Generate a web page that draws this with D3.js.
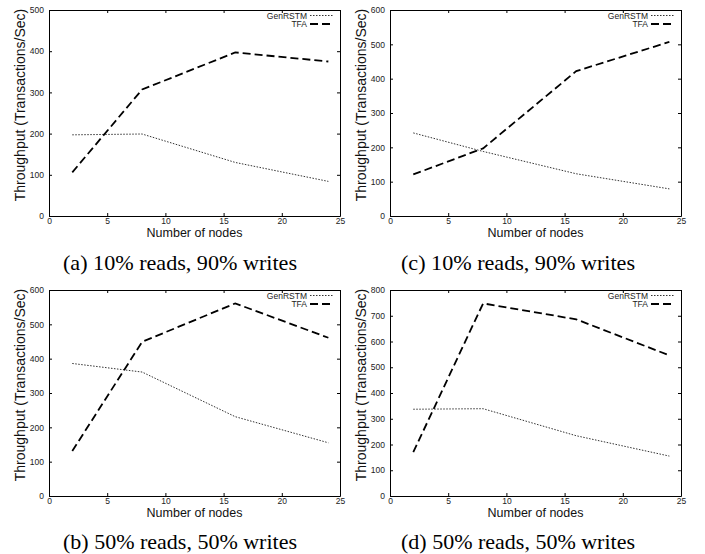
<!DOCTYPE html>
<html>
<head>
<meta charset="utf-8">
<script src="https://cdn.jsdelivr.net/npm/d3@7"></script>
<style>
  html, body { margin: 0; padding: 0; background: #fff; }
  svg { display: block; }
  .tick text { font-family: "Liberation Sans", Arial, sans-serif; font-size: 8.5px; fill: #222; }
</style>
</head>
<body>
<svg id="fig" width="705" height="554"></svg>
<script>
// Node counts on the x axis (shared by all four runs)
const nodes = [2, 8, 16, 24];

// Throughput series (transactions/sec) per workload
const genA = [197, 199, 130, 84];
const tfaA = [106, 307, 397, 375];
const genC = [242, 188, 123, 79];
const tfaC = [121, 197, 422, 507];
const genB = [386, 361, 231, 155];
const tfaB = [131, 449, 561, 461];
const genD = [337, 339, 234, 155];
const tfaD = [170, 748, 686, 546];

// Axis ticks
const xTicks = [0, 5, 10, 15, 20, 25];
const yMaxA = 500, yMaxC = 600, yMaxB = 600, yMaxD = 800;

const seriesNames = ["GenRSTM", "TFA"];
const captions = [
  "(a) 10% reads, 90% writes",
  "(c) 10% reads, 90% writes",
  "(b) 50% reads, 50% writes",
  "(d) 50% reads, 50% writes"
];

const panels = [
  { gen: genA, tfa: tfaA, yMax: yMaxA, left: 49, top: 10, cap: captions[0], capX: 180, capY: 270 },
  { gen: genC, tfa: tfaC, yMax: yMaxC, left: 390, top: 10, cap: captions[1], capX: 518, capY: 270 },
  { gen: genB, tfa: tfaB, yMax: yMaxB, left: 49, top: 290, cap: captions[2], capX: 180, capY: 549 },
  { gen: genD, tfa: tfaD, yMax: yMaxD, left: 390, top: 290, cap: captions[3], capX: 518, capY: 549 }
];

const W = 291, H = 206;
const svg = d3.select("#fig");
const sans = "'Liberation Sans', Arial, sans-serif";

const styles = [
  { width: 1, dash: "1.5,1.5", color: "#333" },
  { width: 1.8, dash: "8,4", color: "#000" }
];

panels.forEach(p => {
  const g = svg.append("g").attr("transform", `translate(${p.left},${p.top})`);
  const x = d3.scaleLinear().domain([0, 25]).range([0, W]);
  const y = d3.scaleLinear().domain([0, p.yMax]).range([H, 0]);
  const yTicks = d3.range(0, p.yMax + 1, 100);

  // Axes with inward ticks, mirrored on top and right
  const axB = g.append("g").attr("transform", `translate(0,${H})`)
    .call(d3.axisBottom(x).tickValues(xTicks).tickSizeInner(-3).tickSizeOuter(0).tickPadding(1.5));
  const axL = g.append("g")
    .call(d3.axisLeft(y).tickValues(yTicks).tickSizeInner(-3).tickSizeOuter(0).tickPadding(5));
  const axT = g.append("g")
    .call(d3.axisTop(x).tickValues(xTicks).tickSizeInner(-3).tickSizeOuter(0).tickFormat(""));
  const axR = g.append("g").attr("transform", `translate(${W},0)`)
    .call(d3.axisRight(y).tickValues(yTicks).tickSizeInner(-3).tickSizeOuter(0).tickFormat(""));
  [axB, axL, axT, axR].forEach(a => {
    a.select(".domain").attr("stroke", "#000").attr("stroke-width", 1);
    a.selectAll(".tick line").attr("stroke", "#000");
  });

  // Axis titles
  g.append("text")
    .attr("x", W / 2).attr("y", H + 21)
    .attr("text-anchor", "middle")
    .attr("font-family", sans).attr("font-size", 12.5)
    .attr("fill", "#111")
    .text("Number of nodes");
  g.append("text")
    .attr("transform", `translate(-24,${H / 2 - 8}) rotate(-90)`)
    .attr("text-anchor", "middle")
    .attr("font-family", sans).attr("font-size", 14)
    .attr("fill", "#111")
    .text("Throughput (Transactions/Sec)");

  // Series lines
  const line = d3.line().x((d, i) => x(nodes[i])).y(d => y(d));
  [p.gen, p.tfa].forEach((vals, k) => {
    g.append("path")
      .datum(vals)
      .attr("d", line)
      .attr("fill", "none")
      .attr("stroke", styles[k].color)
      .attr("stroke-width", styles[k].width)
      .attr("stroke-dasharray", styles[k].dash);
  });

  // Legend (top right, entries tightly stacked)
  seriesNames.forEach((name, k) => {
    const ly = 5.5 + k * 8.5;
    g.append("text")
      .attr("x", W - 33).attr("y", ly + 3)
      .attr("text-anchor", "end")
      .attr("font-family", sans).attr("font-size", 8.5)
      .attr("fill", "#222")
      .text(name);
    g.append("line")
      .attr("x1", W - 30).attr("x2", W - 6)
      .attr("y1", ly).attr("y2", ly)
      .attr("stroke", styles[k].color)
      .attr("stroke-width", styles[k].width)
      .attr("stroke-dasharray", styles[k].dash);
  });

  // Sub-figure caption
  svg.append("text")
    .attr("x", p.capX).attr("y", p.capY)
    .attr("text-anchor", "middle")
    .attr("font-family", "'Liberation Serif', 'Times New Roman', serif")
    .attr("font-size", 21)
    .attr("textLength", 234)
    .attr("lengthAdjust", "spacingAndGlyphs")
    .attr("fill", "#000")
    .text(p.cap);
});
</script>
</body>
</html>
